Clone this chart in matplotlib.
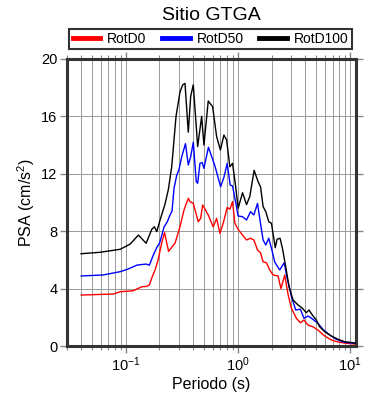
import matplotlib
matplotlib.use("Agg")
import matplotlib.pyplot as plt
from matplotlib.ticker import LogLocator, NullFormatter

plt.rcParams['font.family'] = ['Liberation Sans', 'DejaVu Sans']
plt.rcParams['mathtext.fontset'] = 'custom'
plt.rcParams['mathtext.rm'] = 'Liberation Sans'
plt.rcParams['mathtext.it'] = 'Liberation Sans'

title = "Sitio GTGA"
series_names = ["RotD0", "RotD50", "RotD100"]
series_colors = ["#ff0000", "#0000ff", "#000000"]

period_d100 = [0.040, 0.059, 0.0894, 0.1096, 0.1299, 0.1522, 0.1709, 0.1803, 0.1894, 0.2026,
               0.2244, 0.2401, 0.2574, 0.2811, 0.3050, 0.3225, 0.3380, 0.3616, 0.3798, 0.4006,
               0.4384, 0.4757, 0.4985, 0.5445, 0.5957, 0.6466, 0.6989, 0.7510, 0.7937, 0.8489,
               0.8971, 0.9598, 1.006, 1.101, 1.195, 1.278, 1.396, 1.515, 1.595, 1.679,
               1.774, 1.886, 1.993, 2.154, 2.236, 2.377, 2.496, 2.671, 2.858, 3.101,
               3.436, 3.760, 4.080, 4.303, 4.613, 5.008, 5.357, 5.934, 6.806, 7.791,
               8.937, 10.59, 11.19]
psa_d100 = [6.43, 6.53, 6.74, 7.1, 7.73, 7.16, 8.13, 8.31, 7.97, 8.78,
            9.9, 10.9, 12.5, 16.0, 17.7, 18.2, 18.3, 14.9, 17.4, 18.2,
            13.9, 16.0, 14.0, 17.07, 16.68, 14.6, 13.66, 14.70, 14.36, 12.49,
            12.73, 11.0, 9.6, 10.68, 9.85, 10.42, 12.24, 11.45, 11.08, 9.71,
            9.36, 8.66, 8.55, 6.85, 7.44, 7.51, 6.81, 5.53, 4.13, 3.21,
            2.86, 2.63, 2.32, 2.51, 2.16, 1.81, 1.34, 1.0, 0.70, 0.47,
            0.30, 0.23, 0.20]

period_d50 = [0.0402, 0.0631, 0.0894, 0.1031, 0.1265, 0.1522, 0.1627, 0.1755, 0.1905, 0.2005,
              0.2199, 0.2352, 0.2486, 0.2590, 0.2698, 0.2852, 0.2990, 0.3160, 0.3413, 0.3616,
              0.3798, 0.4006, 0.4259, 0.4384, 0.4595, 0.4817, 0.4985, 0.5467, 0.6245, 0.7018,
              0.7510, 0.8034, 0.8543, 0.8971, 0.9598, 1.006, 1.101, 1.195, 1.297, 1.388,
              1.497, 1.591, 1.679, 1.774, 1.886, 1.993, 2.132, 2.362, 2.590, 2.771,
              2.900, 3.002, 3.278, 3.609, 3.885, 4.216, 4.670, 5.173, 5.731, 6.574,
              7.540, 8.937, 10.96]
psa_d50 = [4.88, 4.95, 5.18, 5.34, 5.64, 5.71, 5.63, 6.3, 6.9, 7.16,
           8.3, 8.66, 9.13, 9.4, 10.99, 11.9, 12.3, 13.19, 14.1, 12.61,
           13.19, 14.2, 11.45, 11.34, 12.73, 12.78, 12.38, 13.85, 12.55, 11.1,
           11.75, 12.73, 11.22, 11.15, 9.94, 9.06, 9.01, 8.78, 9.36, 9.13,
           9.94, 8.55, 7.39, 7.04, 7.51, 6.81, 5.85, 5.30, 5.8, 4.6,
           4.0, 3.44, 2.51, 2.56, 1.93, 2.09, 1.86, 1.58, 1.16, 0.77,
           0.47, 0.26, 0.19]

period_d0 = [0.0402, 0.0631, 0.0774, 0.0894, 0.1166, 0.1393, 0.1537, 0.1627, 0.1720, 0.1829,
             0.1944, 0.2098, 0.2221, 0.2411, 0.2754, 0.3050, 0.3311, 0.3616, 0.3744, 0.4006,
             0.4437, 0.4661, 0.4855, 0.5445, 0.6031, 0.6466, 0.6918, 0.7401, 0.8034, 0.8489,
             0.8971, 0.9404, 1.006, 1.101, 1.195, 1.297, 1.388, 1.497, 1.591, 1.679,
             1.799, 1.924, 2.060, 2.281, 2.421, 2.617, 2.800, 3.002, 3.325, 3.609,
             3.885, 4.216, 4.670, 5.173, 5.934, 6.806, 7.791, 9.253, 10.96]
psa_d0 = [3.55, 3.60, 3.62, 3.78, 3.85, 4.13, 4.15, 4.25, 4.8, 5.3,
          5.99, 7.2, 7.9, 6.6, 7.16, 8.31, 9.48, 10.29, 10.06, 9.94,
          8.66, 8.90, 9.83, 9.13, 8.3, 8.90, 7.85, 8.55, 9.66, 9.53,
          10.06, 8.55, 8.13, 7.73, 7.39, 7.51, 7.39, 6.69, 6.50, 5.87,
          5.80, 5.30, 4.95, 4.88, 4.0, 4.95, 3.6, 2.63, 1.93, 1.62,
          1.81, 1.46, 1.34, 1.11, 0.70, 0.42, 0.28, 0.19, 0.14]

y_ticks = [0, 4, 8, 12, 16, 20]
x_label = "Periodo (s)"
y_label = "PSA (cm/s$^2$)"

fig = plt.figure(figsize=(3.9, 4.0), dpi=100)
ax = fig.add_axes([67/390, 1-346/400, (356-67)/390, (346-59)/400])

lines = []
for per, vals, name, col in zip([period_d0, period_d50, period_d100],
                                [psa_d0, psa_d50, psa_d100],
                                series_names, series_colors):
    ln, = ax.plot(per, vals, color=col, lw=1.0, label=name, zorder=3)
    lines.append(ln)

ax.set_xscale('log')
ax.set_xlim(0.03, 11.3)
ax.set_ylim(0, 20)
ax.set_yticks(y_ticks)
ax.set_yticklabels([str(v) for v in y_ticks])
ax.xaxis.set_major_locator(LogLocator(base=10, numticks=10))
ax.xaxis.set_minor_locator(LogLocator(base=10, subs=range(2, 10), numticks=20))
ax.xaxis.set_minor_formatter(NullFormatter())

ax.grid(True, which='both', axis='x', color='#999999', lw=0.7, zorder=1)
ax.grid(True, which='major', axis='y', color='#999999', lw=0.7, zorder=1)
ax.set_axisbelow(True)

for s in ax.spines.values():
    s.set_linewidth(2.2)
    s.set_color('#333333')

ax.tick_params(axis='both', which='major', direction='out', length=5, width=1.0,
               color='#888888', labelsize=10.5, top=True, right=True, pad=2)
ax.tick_params(axis='x', which='minor', direction='out', length=3, width=0.8,
               color='#888888', top=True, bottom=True)

ax.set_xlabel(x_label, fontsize=11.5, labelpad=2)
ax.set_ylabel(y_label, fontsize=11.5, labelpad=3)

fig.text(211/390, 1-15/400, title, ha='center', va='center', fontsize=14)

leg = fig.legend(handles=lines, labels=series_names, ncol=3, loc='center',
                 bbox_to_anchor=(210.5/390, 1-39/400), frameon=True, fancybox=False,
                 fontsize=10, handlelength=2.0, handletextpad=0.5, columnspacing=1.1,
                 borderpad=0.25, borderaxespad=0)
leg.get_frame().set_edgecolor('black')
leg.get_frame().set_linewidth(1.5)
for h in leg.get_lines():
    h.set_linewidth(3.5)

fig.savefig("out.png", dpi=100)
